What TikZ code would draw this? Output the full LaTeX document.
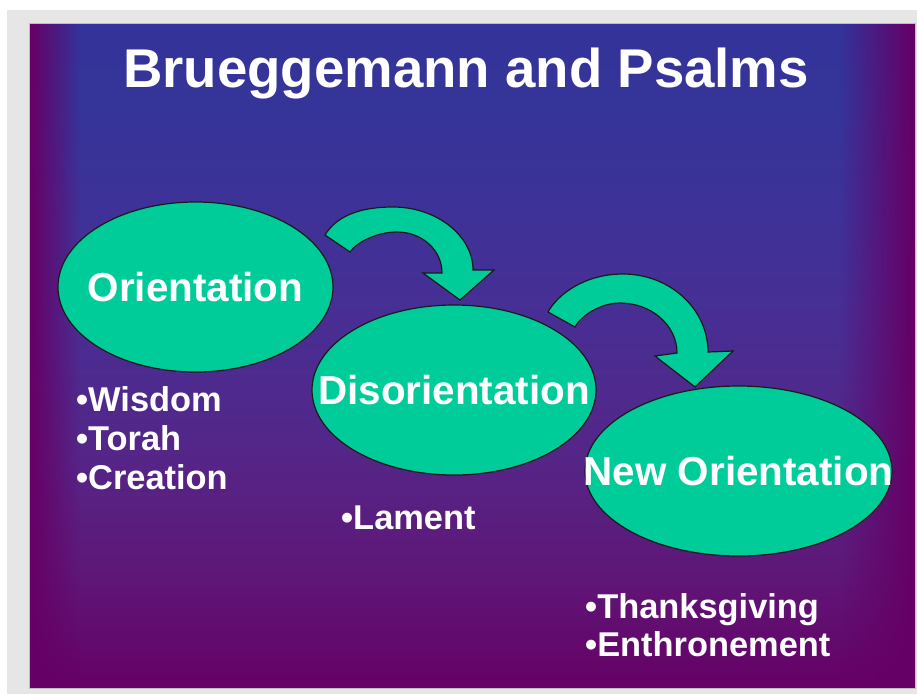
\documentclass[tikz,border=0pt]{standalone}
\usepackage{fontspec}
\setmainfont{Liberation Sans}
\usetikzlibrary{shapes.geometric}
\definecolor{slideblue}{HTML}{333399}
\definecolor{slidepurple}{HTML}{660066}
\definecolor{midA}{HTML}{5E1878}
\definecolor{midB}{HTML}{542688}
\definecolor{midC}{HTML}{462F95}
\definecolor{midD}{HTML}{353499}
\definecolor{ovalfill}{HTML}{00CC99}
\definecolor{framegray}{HTML}{E6E6E6}
\definecolor{outline}{HTML}{1A1A1A}
\pgfdeclareverticalshading{slidebg}{100bp}{color(0bp)=(slidepurple); color(25bp)=(slidepurple); color(33.9bp)=(midA); color(42.9bp)=(midB); color(54.2bp)=(midC); color(68.5bp)=(midD); color(75bp)=(slideblue); color(100bp)=(slideblue)}
\tikzset{
  oval/.style={ellipse, fill=ovalfill, draw=outline, line width=1.2pt, inner sep=0pt},
  ovaltext/.style={text=white, font=\bfseries\fontsize{40.4}{44}\selectfont, inner sep=0pt},
  bullettext/.style={text=white, font=\bfseries\fontsize{34.4}{38}\selectfont, inner sep=0pt, anchor=base west},
  titletext/.style={text=white, font=\bfseries\fontsize{54.6}{60}\selectfont, inner sep=0pt, anchor=base},
  bentarrow/.style={fill=ovalfill, draw=outline, line width=1.2pt, line join=miter}
}
\begin{document}
\begin{tikzpicture}[x=1pt,y=-1pt]
\useasboundingbox (0,0) rectangle (917,694);
\fill[white] (0,0) rectangle (917,694);
\fill[framegray] (7,10) rectangle (917,694);
\shade[shading=slidebg] (29,23) rectangle (915,688);
% edge darkening
\foreach \i in {0,...,24} {
  \pgfmathsetmacro{\op}{1-\i/25}
  \fill[slidepurple, opacity=\op] (29+2*\i,23) rectangle (31+2*\i,688);
}
\foreach \i in {0,...,36} {
  \pgfmathsetmacro{\op}{1-\i/37}
  \fill[slidepurple, opacity=\op] (915-2*\i,23) rectangle (913-2*\i,688);
}
\draw[black!25, line width=0.6pt] (29,23) rectangle (915,688);

\node[titletext] (title) at (466,87) {Brueggemann and Psalms};

% curved arrows
\draw[bentarrow] (325,235) .. controls (336,217) and (358,207) .. (393,207)
  .. controls (437,207) and (473,236) .. (473,270) -- (494,270) -- (460,300)
  -- (423,273) -- (442,273) .. controls (442,250) and (422,232) .. (397,232)
  .. controls (377,232) and (357,242) .. (350,252) -- cycle;
\draw[bentarrow] (548,312) .. controls (558,294) and (585,274) .. (623,274)
  .. controls (670,274) and (708,309) .. (708,352) -- (733,351) -- (695,387)
  -- (655,356) -- (677,353) .. controls (677,325) and (651,303) .. (620,303)
  .. controls (600,303) and (581,316) .. (575,327) -- cycle;

% ovals
\node[oval, minimum width=275pt, minimum height=170pt] (orient) at (195.5,287) {};
\node[oval, minimum width=284pt, minimum height=170pt] (disorient) at (454,390) {};
\node[oval, minimum width=307pt, minimum height=170pt] (neworient) at (738.5,471) {};
\node[ovaltext] (orientlabel) at (orient.center) {Orientation};
\node[ovaltext] (disorientlabel) at (disorient.center) {Disorientation};
\node[ovaltext] (neworientlabel) at (neworient.center) {New Orientation};

% bullet lists
\node[bullettext] (wisdom) at (76,411) {•Wisdom};
\node[bullettext] (torah) at (76,450) {•Torah};
\node[bullettext] (creation) at (76,489) {•Creation};
\node[bullettext] (lament) at (341,529) {•Lament};
\node[bullettext] (thanks) at (585,618) {•Thanksgiving};
\node[bullettext] (enthrone) at (585,656) {•Enthronement};
\end{tikzpicture}
\end{document}
